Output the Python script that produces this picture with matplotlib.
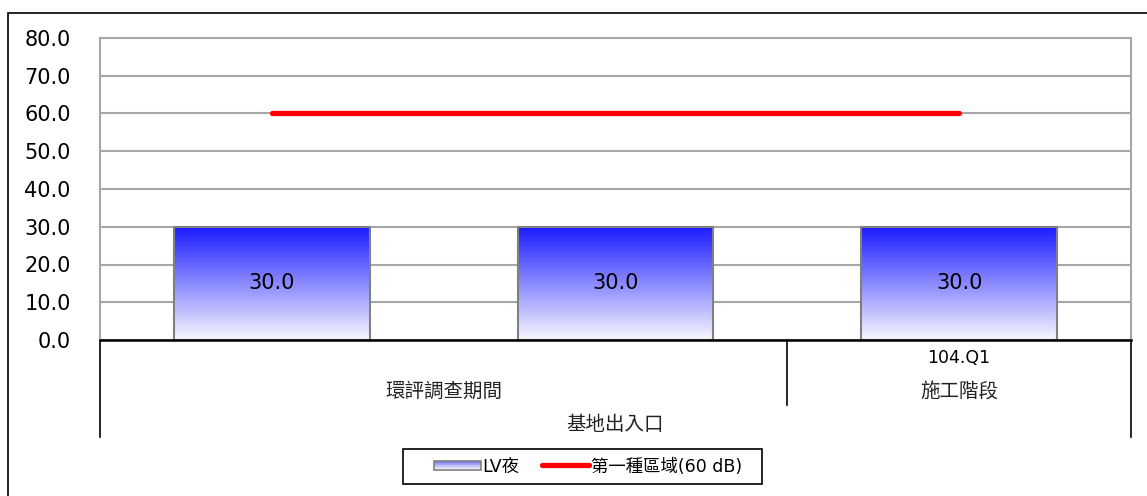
import matplotlib
matplotlib.use("Agg")
import matplotlib.pyplot as plt
import numpy as np
from matplotlib.patches import Rectangle
from matplotlib.lines import Line2D
from matplotlib.legend_handler import HandlerBase
import matplotlib.transforms as mtransforms
from matplotlib.colors import LinearSegmentedColormap

plt.rcParams['font.family'] = ['DejaVu Sans', 'Noto Sans CJK TC']

# ---- data ----
level1_labels = ['', '', '104.Q1']
level2_groups = ['環評調查期間', '環評調查期間', '施工階段']
level3_groups = ['基地出入口', '基地出入口', '基地出入口']
lv_night = [30.0, 30.0, 30.0]
standard_60 = [60.0, 60.0, 60.0]
series_names = ['LV夜', '第一種區域(60 dB)']
y_ticks = [0, 10, 20, 30, 40, 50, 60, 70, 80]

W, H = 1147, 496
fig = plt.figure(figsize=(W / 100, H / 100), dpi=100)
ax = fig.add_axes([100 / W, 1 - 340 / H, (1131 - 100) / W, (340 - 38) / H])

x = np.arange(len(lv_night))
bar_w = 0.57
cmap = LinearSegmentedColormap.from_list('g', ['#f8f8ff', '#1a1aff'])
grad = np.linspace(0, 1, 256).reshape(-1, 1)

bars = ax.bar(x, lv_night, width=bar_w, color='none', edgecolor='#808080',
              linewidth=1.5, zorder=3)
for b in bars:
    x0, y0 = b.get_x(), b.get_y()
    w, h = b.get_width(), b.get_height()
    im = ax.imshow(grad, cmap=cmap, origin='lower', aspect='auto',
                   extent=[x0, x0 + w, y0, y0 + h], zorder=2)
    im.set_clip_path(b)
    ax.text(x0 + w / 2, y0 + h / 2, f'{h:.1f}', ha='center', va='center',
            fontsize=15, zorder=4)

ax.plot(x, standard_60, color='#ff0000', linewidth=3.8, solid_capstyle='round',
        zorder=5)

ax.set_xlim(-0.5, len(x) - 0.5)
ax.set_ylim(0, 80)
ax.set_yticks(y_ticks)
ax.set_yticklabels([f'{v:.1f}' for v in y_ticks], fontsize=15)
ax.tick_params(axis='y', length=0, pad=21)
ax.tick_params(axis='x', length=0, labelbottom=False)
ax.grid(axis='y', color='#a6a6a6', linewidth=1.5, zorder=1)
ax.set_axisbelow(True)
for s in ['top', 'right', 'left']:
    ax.spines[s].set_color('#a6a6a6')
    ax.spines[s].set_linewidth(1.5)
ax.spines['bottom'].set_color('black')
ax.spines['bottom'].set_linewidth(1.8)
ax.spines['bottom'].set_zorder(6)

# ---- multi-level category axis ----
trans = mtransforms.blended_transform_factory(ax.transData, fig.transFigure)
def fy(py):
    return 1 - py / H

# level 1
for i, lab in enumerate(level1_labels):
    if lab:
        ax.text(i, fy(358), lab, transform=trans, ha='center', va='center',
                fontsize=12.5)

def groups(lst):
    out = []
    start = 0
    for i in range(1, len(lst) + 1):
        if i == len(lst) or lst[i] != lst[start]:
            out.append((lst[start], start, i - 1))
            start = i
    return out

g2 = groups(level2_groups)
for name, s, e in g2:
    ax.text((s + e) / 2, fy(391), name, transform=trans, ha='center',
            va='center', fontsize=14, color='#222222')
for name, s, e in g2[:-1]:
    ax.add_line(Line2D([e + 0.5, e + 0.5], [fy(340), fy(405)], transform=trans,
                       color='black', linewidth=1.2, clip_on=False))
g3 = groups(level3_groups)
for name, s, e in g3:
    ax.text((s + e) / 2, fy(424), name, transform=trans, ha='center',
            va='center', fontsize=14, color='#222222')
for xe in [-0.5, len(x) - 0.5]:
    ax.add_line(Line2D([xe, xe], [fy(340), fy(437)], transform=trans,
                       color='black', linewidth=1.2, clip_on=False))

# ---- legend ----
leg_cmap = LinearSegmentedColormap.from_list('lg', ['#ffffff', '#7070f0'])
class GradHandler(HandlerBase):
    def create_artists(self, legend, orig_handle, xdescent, ydescent, width,
                       height, fontsize, trans):
        arts = []
        n = 12
        hh = height * 0.7
        yb = -ydescent + (height - hh) / 2
        for k in range(n):
            c = leg_cmap(1 - (k + 0.5) / n)
            r = Rectangle((-xdescent, yb + hh * (1 - (k + 1) / n)),
                          width, hh / n, facecolor=c, edgecolor='none',
                          transform=trans)
            arts.append(r)
        arts.append(Rectangle((-xdescent, yb), width, hh,
                              facecolor='none', edgecolor='#808080',
                              linewidth=1.2, transform=trans))
        return arts

h_bar = Rectangle((0, 0), 1, 1)
h_line = Line2D([0], [0], color='#ff0000', linewidth=3.8,
                solid_capstyle='round')
leg = fig.legend([h_bar, h_line], series_names, loc='center',
                 bbox_to_anchor=(588 / W, 1 - 466.5 / H), ncol=2,
                 fontsize=12.5, frameon=False,
                 handlelength=2.7, handletextpad=0.1,
                 columnspacing=1.3, borderpad=0.45,
                 handler_map={Rectangle: GradHandler()})
# legend frame box (wider than content, as in the reference)
fig.patches.append(Rectangle((403 / W, 1 - 484 / H), (762 - 403) / W, 35 / H,
                             transform=fig.transFigure, facecolor='white',
                             edgecolor='black', linewidth=1.2, zorder=0))

# outer frame
fig.patches.append(Rectangle((8 / W, -0.1), 1.2, 1 - 13 / H + 0.1,
                             transform=fig.transFigure, facecolor='none',
                             edgecolor='black', linewidth=1.2))

fig.savefig('out.png', dpi=100)
